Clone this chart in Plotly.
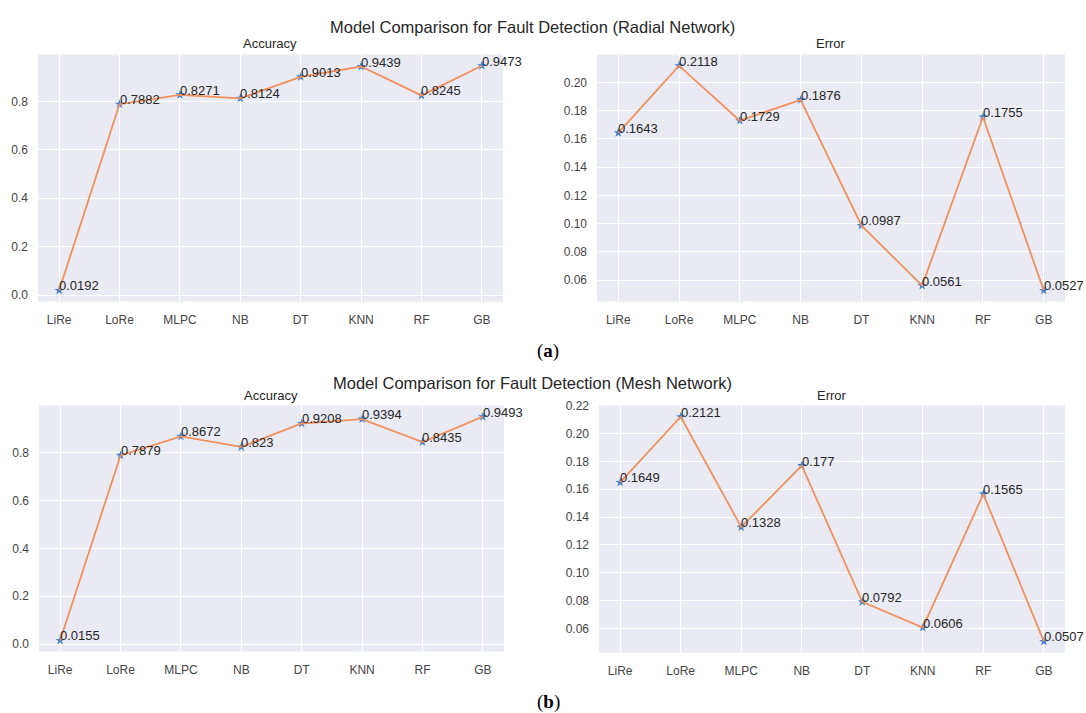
import plotly.graph_objects as go

models = ["LiRe", "LoRe", "MLPC", "NB", "DT", "KNN", "RF", "GB"]
radial_accuracy = [0.0192, 0.7882, 0.8271, 0.8124, 0.9013, 0.9439, 0.8245, 0.9473]
radial_error = [0.1643, 0.2118, 0.1729, 0.1876, 0.0987, 0.0561, 0.1755, 0.0527]
mesh_accuracy = [0.0155, 0.7879, 0.8672, 0.823, 0.9208, 0.9394, 0.8435, 0.9493]
mesh_error = [0.1649, 0.2121, 0.1328, 0.177, 0.0792, 0.0606, 0.1565, 0.0507]

acc_ticks = [0.0, 0.2, 0.4, 0.6, 0.8]
radial_err_ticks = [0.06, 0.08, 0.10, 0.12, 0.14, 0.16, 0.18, 0.20]
mesh_err_ticks = [0.06, 0.08, 0.10, 0.12, 0.14, 0.16, 0.18, 0.20, 0.22]

W, H = 1086, 713
def px(x):
    return x / W
def py(y):
    return 1 - y / H

panels = [
    # (values, ticks, fmt, xdom px, ydom px)
    (radial_accuracy, acc_ticks, ".1f", (38, 503), (298, 48)),
    (radial_error, radial_err_ticks, ".2f", (597, 1065), (298, 48)),
    (mesh_accuracy, acc_ticks, ".1f", (39, 504), (652, 403)),
    (mesh_error, mesh_err_ticks, ".2f", (599, 1065), (653, 403)),
]

LINE = "#F0905E"
MARK = "#3F7FD0"
BG = "#EAEAF2"
FONT = "Liberation Sans, Arial, sans-serif"

fig = go.Figure()
annotations = []
layout_axes = {}

for i, (vals, ticks, fmt, xd, yd) in enumerate(panels, start=1):
    xa = "x" if i == 1 else f"x{i}"
    ya = "y" if i == 1 else f"y{i}"
    fig.add_trace(go.Scatter(x=models, y=vals, mode="markers", xaxis=xa, yaxis=ya,
                             marker=dict(symbol="star", size=7, color=MARK),
                             showlegend=False, hoverinfo="skip"))
    fig.add_trace(go.Scatter(x=models, y=vals, mode="lines", xaxis=xa, yaxis=ya,
                             line=dict(color=LINE, width=1.8),
                             showlegend=False))
    lo, hi = min(vals), max(vals)
    m = 0.05 * (hi - lo)
    layout_axes["xaxis" if i == 1 else f"xaxis{i}"] = dict(
        domain=[px(xd[0]), px(xd[1])], anchor=ya, type="category",
        range=[-0.35, 7.35], showgrid=True, gridcolor="white", gridwidth=1.2,
        zeroline=False, showline=False, ticks="",
        tickfont=dict(family=FONT, size=12, color="#444444"),
        ticklabelstandoff=9, fixedrange=True)
    layout_axes["yaxis" if i == 1 else f"yaxis{i}"] = dict(
        domain=[py(yd[0]), py(yd[1])], anchor=xa,
        range=[lo - m, hi + m], tickvals=ticks, tickformat=fmt,
        showgrid=True, gridcolor="white", gridwidth=1.2,
        zeroline=False, showline=False, ticks="",
        tickfont=dict(family=FONT, size=12, color="#444444"),
        ticklabelstandoff=9, fixedrange=True)
    for mdl, v in zip(models, vals):
        annotations.append(dict(x=mdl, y=v, xref=xa, yref=ya, text=f"{v:g}",
                                showarrow=False, xanchor="left", yanchor="bottom",
                                yshift=-4, xshift=-1, borderpad=0,
                                font=dict(family=FONT, size=13, color="#262626")))

# titles
def text_ann(x, y, t, size, color="#262626", family=FONT):
    return dict(x=px(x), y=py(y), xref="paper", yref="paper", text=t, showarrow=False,
                xanchor="center", yanchor="middle", font=dict(family=family, size=size, color=color))

annotations += [
    text_ann(532, 20, "Model Comparison for Fault Detection (Radial Network)", 16.5),
    text_ann(270, 37, "Accuracy", 13),
    text_ann(831, 37, "Error", 13),
    text_ann(532, 380, "Model Comparison for Fault Detection (Mesh Network)", 16.5),
    text_ann(271, 393, "Accuracy", 13),
    text_ann(832, 393, "Error", 13),
    text_ann(548, 348, "(<b>a</b>)", 19, "#000000", "Liberation Serif, Times New Roman, serif"),
    text_ann(548, 703, "(<b>b</b>)", 19, "#000000", "Liberation Serif, Times New Roman, serif"),
]

fig.update_layout(
    width=W, height=H, margin=dict(l=0, r=0, t=0, b=0),
    paper_bgcolor="white", plot_bgcolor=BG,
    annotations=annotations, showlegend=False,
    **layout_axes,
)

fig.write_html("out.html", config={"displayModeBar": False},
               post_script="document.body.style.margin='0';document.body.style.overflow='hidden';")
